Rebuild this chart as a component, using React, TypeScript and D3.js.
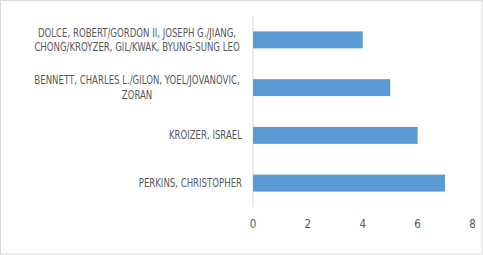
import React from "react";
import * as d3 from "d3";

const categories: string[][] = [
  ["DOLCE, ROBERT/GORDON II, JOSEPH G./JIANG,", "CHONG/KROYZER, GIL/KWAK, BYUNG-SUNG LEO"],
  ["BENNETT, CHARLES L./GILON, YOEL/JOVANOVIC,", "ZORAN"],
  ["KROIZER, ISRAEL"],
  ["PERKINS, CHRISTOPHER"],
];
const values: number[] = [4, 5, 6, 7];
const xTicks: number[] = [0, 2, 4, 6, 8];

const W = 483;
const H = 255;
const left = 253;
const right = 472.5;
const top = 16;
const bottom = 207;
const FONT = "'DejaVu Sans Condensed', 'Roboto', sans-serif";
const SX = 0.83;

export default function App() {
  const x = d3.scaleLinear().domain([0, 8]).range([left, right]);
  const y = d3
    .scaleBand<number>()
    .domain(d3.range(values.length))
    .range([top, bottom])
    .paddingInner(0.645)
    .paddingOuter(0.3225);
  const lineH = 14.5;
  return (
    <svg
      width={W}
      height={H}
      style={{ position: "absolute", left: 0, top: 0 }}
    >
      <rect x={0.5} y={0.5} width={W - 1.5} height={H - 1.5} fill="#fff" stroke="#d9d9d9" />
      <line x1={left} x2={left} y1={top} y2={bottom} stroke="#d9d9d9" strokeWidth={1} />
      {values.map((v, i) => (
        <rect
          key={i}
          x={x(0)}
          y={y(i)!}
          width={x(v) - x(0)}
          height={y.bandwidth()}
          fill="#5B9BD5"
        />
      ))}
      {categories.map((lines, i) => {
        const cy = y(i)! + y.bandwidth() / 2;
        const n = lines.length;
        const ax = n > 1 ? 137 : 242;
        return (
          <text
            key={i}
            fontFamily={FONT}
            fontSize={11.5}
            fill="#595959"
            textAnchor={n > 1 ? "middle" : "end"}
            transform={`translate(${ax},0) scale(${SX},1)`}
          >
            {lines.map((l, j) => (
              <tspan
                key={j}
                x={0}
                y={cy + (j - (n - 1) / 2) * lineH}
                dy="0.35em"
              >
                {l}
              </tspan>
            ))}
          </text>
        );
      })}
      {xTicks.map((t) => (
        <text
          key={t}
          x={x(t)}
          y={224}
          dy="0.35em"
          textAnchor="middle"
          fontFamily={FONT}
          fontSize={11.5}
          fill="#595959"
        >
          {t}
        </text>
      ))}
    </svg>
  );
}
